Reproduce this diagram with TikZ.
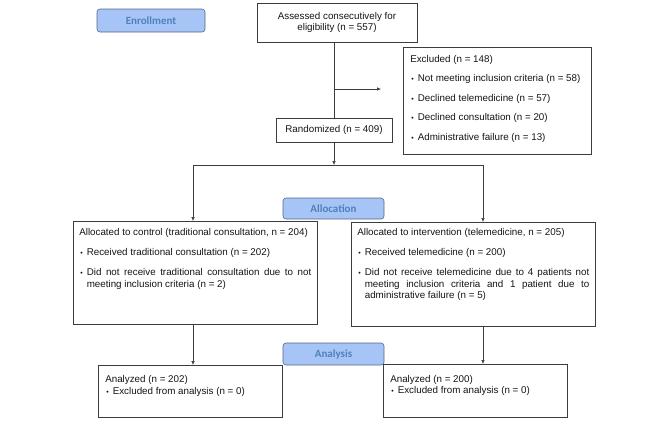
\documentclass[tikz,border=0pt]{standalone}
\usepackage{fontspec}
\setmainfont{Liberation Sans}
\newfontfamily\stagefont{Carlito}
\usetikzlibrary{arrows.meta}
\definecolor{stagefill}{RGB}{166,196,245}
\definecolor{stagetext}{RGB}{79,129,189}
\definecolor{stageline}{RGB}{85,105,135}
\definecolor{boxline}{RGB}{60,60,60}
\definecolor{boxtxt}{RGB}{20,20,20}
\newcommand{\bul}{\makebox[7.5pt][l]{\hspace{1pt}\raisebox{0.3pt}{\fontsize{7}{7}\selectfont\textbullet}}}
\newcommand{\itm}[1]{\par\noindent\bul\parbox[t]{\dimexpr\linewidth-7.5pt}{#1}}
\newcommand{\boxtext}[4]{\begin{minipage}[t][#2][t]{#1}\vspace*{#3}#4\end{minipage}}
\tikzset{
  stage/.style={draw=stageline, fill=stagefill, rounded corners=3pt, text=stagetext,
    font=\stagefont\bfseries\fontsize{11}{13}\selectfont, inner sep=0pt, line width=0.6pt},
  plain/.style={draw=boxline, text=boxtxt, font=\fontsize{9.8}{11.5}\selectfont,
    inner sep=0pt, align=center, line width=0.6pt},
  listbox/.style={draw=boxline, text=boxtxt, font=\fontsize{9.8}{11.5}\selectfont,
    anchor=north west, inner xsep=6pt, inner ysep=0pt, line width=0.6pt},
  line/.style={draw=boxline, line width=0.6pt},
  arrow/.style={line, -{Latex[length=4pt,width=3.5pt]}}
}
\begin{document}
\begin{tikzpicture}[x=1pt,y=-1pt]
\useasboundingbox (0,0) rectangle (666,432);
\node[stage, minimum width=108pt, minimum height=23pt] (enroll) at (151,20.5) {Enrollment};
\node[stage, minimum width=101pt, minimum height=21pt] (alloc) at (333.5,208.5) {Allocation};
\node[stage, minimum width=101pt, minimum height=22pt] (analysis) at (333.5,354) {Analysis};
\node[plain, minimum width=160pt, minimum height=39pt] (assessed) at (337,22.5)
  {Assessed consecutively for\\eligibility (n = 557)};
\node[plain, minimum width=116pt, minimum height=24pt] (random) at (334,130) {Randomized (n = 409)};
\node[listbox, inner xsep=7pt] (excluded) at (403,47) {\boxtext{174pt}{107pt}{8pt}{%
  Excluded (n = 148)\par\vspace{8pt}
  \itm{Not meeting inclusion criteria (n = 58)}\par\vspace{8pt}
  \itm{Declined telemedicine (n = 57)}\par\vspace{8pt}
  \itm{Declined consultation (n = 20)}\par\vspace{8pt}
  \itm{Administrative failure (n = 13)}}};
\node[listbox] (control) at (73,221) {\boxtext{232pt}{103pt}{7.5pt}{%
  Allocated to control (traditional consultation, n = 204)\par\vspace{8.5pt}
  \itm{Received traditional consultation (n = 202)}\par\vspace{8.5pt}
  \itm{Did not receive traditional consultation due to not\linebreak meeting inclusion criteria (n = 2)}}};
\node[listbox] (interv) at (351,222) {\boxtext{232pt}{104pt}{6.5pt}{%
  Allocated to intervention (telemedicine, n = 205)\par\vspace{8.5pt}
  \itm{Received telemedicine (n = 200)}\par\vspace{8.5pt}
  \itm{Did not receive telemedicine due to 4 patients not\linebreak meeting inclusion criteria and 1 patient due to\linebreak administrative failure (n = 5)}}};
\node[listbox, inner xsep=7pt] (anleft) at (98,365) {\boxtext{170pt}{52pt}{10.5pt}{%
  Analyzed (n = 202)\par
  \bul Excluded from analysis (n = 0)}};
\node[listbox, inner xsep=7pt] (anright) at (383,364) {\boxtext{170pt}{53pt}{11pt}{%
  Analyzed (n = 200)\par
  \bul Excluded from analysis (n = 0)}};
\coordinate (excltip) at (381,89);
\coordinate (split) at (334,165);
\coordinate (leftdrop) at (193,165);
\coordinate (rightdrop) at (483,165);
\draw[line] (random.north |- assessed.south) -- (random.north);
\draw[arrow] (random.north |- excltip) -- (excltip);
\draw[arrow] (random.south) -- (split);
\draw[line] (leftdrop) -- (rightdrop);
\draw[arrow] (leftdrop) -- (leftdrop |- control.north);
\draw[arrow] (rightdrop) -- (rightdrop |- interv.north);
\draw[arrow] (leftdrop |- control.south) -- (leftdrop |- anleft.north);
\draw[arrow] (rightdrop |- interv.south) -- (rightdrop |- anright.north);
\end{tikzpicture}
\end{document}
